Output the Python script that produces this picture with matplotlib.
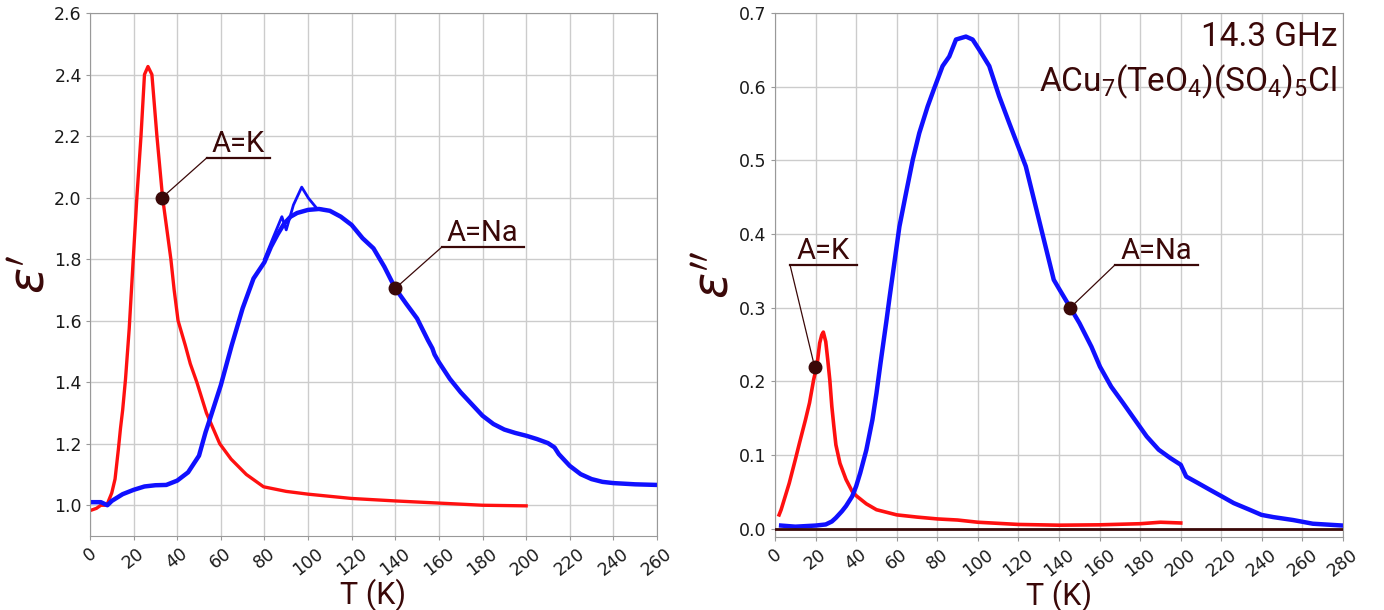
import matplotlib.pyplot as plt
import numpy as np

# ---------- eps' (real part) ----------
t_re_k = [1, 3, 5, 7, 8, 10, 11.5, 13, 14, 15, 16.3, 18, 19.6, 21.5, 23.4, 25, 26.6, 28.4,
          30.7, 33.3, 37.1, 38.6, 40.4, 43.7, 46, 49, 53.4, 59.5, 64.7, 71.7, 79.6, 90, 100,
          120, 140, 160, 180, 200]
re_k = [0.985, 0.99, 1.0, 1.0, 1.005, 1.04, 1.085, 1.18, 1.25, 1.31, 1.41, 1.574, 1.77,
        2.0, 2.2, 2.4, 2.426, 2.4, 2.2, 2.0, 1.8, 1.7, 1.6, 1.52, 1.46, 1.4, 1.3, 1.2, 1.15,
        1.1, 1.06, 1.045, 1.036, 1.022, 1.014, 1.007, 1.0, 0.998]

t_re_na = [1, 3, 5, 8, 10, 15, 20, 25, 30, 35, 40, 45, 50, 53, 55, 60, 65, 70, 75, 80, 83,
           86, 89, 92, 95, 100, 105, 110, 115, 120, 125, 130, 135, 140, 145, 150, 155, 157,
           158, 160, 165, 170, 175, 180, 185, 190, 195, 200, 205, 210, 213, 215, 220, 225,
           230, 235, 240, 250, 260]
re_na = [1.01, 1.01, 1.01, 1.0, 1.014, 1.036, 1.05, 1.061, 1.065, 1.066, 1.08, 1.107, 1.161,
         1.237, 1.28, 1.39, 1.52, 1.64, 1.737, 1.79, 1.84, 1.88, 1.915, 1.938, 1.950, 1.960,
         1.963, 1.957, 1.938, 1.911, 1.868, 1.835, 1.775, 1.705, 1.655, 1.607, 1.536, 1.51,
         1.49, 1.465, 1.411, 1.367, 1.329, 1.291, 1.264, 1.246, 1.235, 1.226, 1.215, 1.202,
         1.188, 1.166, 1.128, 1.101, 1.085, 1.076, 1.072, 1.068, 1.066]

# second (warming) trace of the Na sample near the maximum
t_re_na2 = [80, 84, 88, 90, 93.3, 97.1, 100.2, 104, 108]
re_na2 = [1.80, 1.87, 1.938, 1.895, 1.976, 2.034, 1.998, 1.965, 1.96]

# ---------- eps'' (imaginary part) ----------
t_im_k = [2, 3, 5, 7, 10, 12, 15, 17, 19, 20, 21, 22, 23, 23.8, 25, 26, 27, 28, 29, 30, 32,
          35, 38, 40, 45, 50, 60, 70, 80, 90, 100, 120, 140, 160, 180, 190, 200]
im_k = [0.019, 0.026, 0.044, 0.062, 0.094, 0.116, 0.148, 0.171, 0.202, 0.214, 0.229, 0.252,
        0.263, 0.267, 0.254, 0.229, 0.202, 0.166, 0.139, 0.114, 0.089, 0.067, 0.051, 0.045,
        0.034, 0.026, 0.019, 0.016, 0.0135, 0.012, 0.009, 0.006, 0.005, 0.0055, 0.007,
        0.009, 0.008]

t_im_na = [3, 10, 20, 25, 28, 30, 33, 35, 38, 40, 42, 45, 48, 50, 52, 55, 56.4, 61.3, 64.6,
           67.9, 71.1, 75.2, 78.5, 82.6, 85.9, 89.2, 94.1, 97.4, 100.7, 105.6, 110.5, 115.4,
           123.6, 137.4, 140.4, 145.6, 150.1, 156, 160.2, 165.7, 171.5, 177.4, 183.2, 189.1,
           194.9, 200, 202.7, 208.6, 214.4, 220.3, 226.1, 233.9, 239.8, 245.6, 255.4, 265.1,
           280]
im_na = [0.0045, 0.003, 0.0045, 0.006, 0.010, 0.015, 0.024, 0.031, 0.044, 0.058, 0.076,
         0.107, 0.148, 0.184, 0.225, 0.284, 0.313, 0.410, 0.456, 0.501, 0.537, 0.573, 0.598,
         0.628, 0.641, 0.664, 0.668, 0.664, 0.650, 0.628, 0.587, 0.551, 0.492, 0.338, 0.324,
         0.300, 0.279, 0.247, 0.220, 0.193, 0.171, 0.148, 0.1255, 0.1075, 0.096, 0.087,
         0.071, 0.062, 0.053, 0.044, 0.035, 0.026, 0.019, 0.016, 0.012, 0.007, 0.0045]

ink = '#3a0808'
red = '#ff1010'
blue = '#1010ff'

plt.rcParams['font.family'] = 'DejaVu Sans'
plt.rcParams['mathtext.fontset'] = 'dejavusans'

fig = plt.figure(figsize=(13.84, 6.10), dpi=100)
ax1 = fig.add_axes([0.065, 0.1213, 0.4097, 0.8574])
ax2 = fig.add_axes([0.560, 0.1197, 0.4104, 0.8590])


def style(ax, xmax, ylab, ylab_x):
    ax.grid(True, color='#cccccc', lw=1)
    ax.set_axisbelow(True)
    for s in ax.spines.values():
        s.set_color('#999999')
    ax.tick_params(length=3, color='#999999', labelsize=12.5, colors='#1a1a1a', pad=3)
    ax.tick_params(axis='x', labelrotation=38)
    ax.set_xlim(0, xmax)
    ax.set_xticks(np.arange(0, xmax + 1, 20))
    ax.set_xlabel('T (K)', family='Roboto', fontsize=22, color=ink, labelpad=0)
    ax.set_ylabel(ylab, fontsize=35, color=ink)
    ax.yaxis.set_label_coords(ylab_x, 0.5)


def tag(ax, pt, start, width, label):
    x0, y0 = start
    ax.plot([pt[0], x0], [pt[1], y0], color=ink, lw=0.9, zorder=4)
    ax.plot([x0, x0 + width], [y0, y0], color=ink, lw=1.6, zorder=4)
    ax.plot(pt[0], pt[1], 'o', ms=9, color=ink, zorder=5)
    ax.text(x0 + width / 2, y0, label, ha='center', va='bottom', family='Roboto',
            fontsize=21, color=ink)


# left: real part
ax1.plot(t_re_k, re_k, color=red, lw=2.4)
ax1.plot(t_re_na, re_na, color=blue, lw=3.2)
ax1.plot(t_re_na2, re_na2, color=blue, lw=2)
style(ax1, 260, r"$\varepsilon'$", -0.062)
ax1.set_ylim(0.9, 2.6)
ax1.set_yticks(np.arange(1.0, 2.61, 0.2))
tag(ax1, (33.1, 2.0), (53.7, 2.13), 28.9, 'A=K')
tag(ax1, (140, 1.705), (161.3, 1.839), 37.7, 'A=Na')

# right: imaginary part
ax2.plot(t_im_k, im_k, color=red, lw=2.6)
ax2.plot(t_im_na, im_na, color=blue, lw=3.2)
ax2.axhline(0, color=ink, lw=2, zorder=3)
style(ax2, 280, r"$\varepsilon''$", -0.065)
ax2.set_ylim(-0.011, 0.7)
ax2.set_yticks(np.arange(0, 0.71, 0.1))
tag(ax2, (19.5, 0.22), (7.4, 0.358), 33, 'A=K')
tag(ax2, (145.5, 0.30), (167.5, 0.358), 40.9, 'A=Na')

ax2.text(0.99, 0.985, '14.3 GHz', transform=ax2.transAxes, ha='right', va='top',
         family='Roboto', fontsize=24, color=ink)
plt.rcParams['mathtext.rm'] = 'Roboto'
ax2.text(0.99, 0.905, r'ACu$_\mathrm{7}$(TeO$_\mathrm{4}$)(SO$_\mathrm{4}$)$_\mathrm{5}$Cl',
         transform=ax2.transAxes, ha='right', va='top', family='Roboto', fontsize=24,
         color=ink, math_fontfamily='custom')

fig.savefig('out.png', dpi=100)
